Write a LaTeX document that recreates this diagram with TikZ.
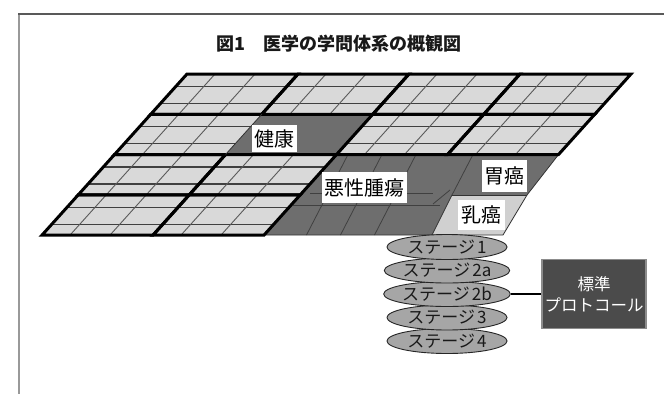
\documentclass[tikz,border=0pt]{standalone}
\usepackage{fontspec}
\setmainfont{Noto Sans CJK JP}
\usetikzlibrary{shapes.geometric}
\definecolor{gridfill}{HTML}{D9D9D9}
\definecolor{darkfill}{HTML}{6E6E6E}
\definecolor{lightreg}{HTML}{D0D0D0}
\definecolor{stagefill}{HTML}{A6A6A6}
\definecolor{protofill}{HTML}{4B4B4B}
\tikzset{
  minorh/.style={draw=black!75, line width=1.2pt},
  minorv/.style={draw=black!65, line width=0.9pt},
  thickline/.style={draw=black, line width=3pt},
  thinedge/.style={draw=black!80, line width=0.8pt},
  darkline/.style={draw=black!75, line width=0.8pt},
  lbl/.style={fill=white, inner sep=0pt, text=black, font=\fontsize{20}{20}\selectfont},
  stage/.style={ellipse, draw=black!85, line width=0.9pt, fill=stagefill, inner sep=0pt,
    minimum width=120pt, minimum height=25pt, text=black!90, font=\fontsize{17}{17}\selectfont},
  protobox/.style={draw=black!45, line width=1.2pt, fill=protofill, text=white, align=center,
    minimum width=104pt, minimum height=69pt, inner sep=0pt, font=\fontsize{16.5}{21}\selectfont},
  conn/.style={draw=black, line width=1.1pt},
  titletext/.style={font=\bfseries\fontsize{18}{18}\selectfont, text=black!90, inner sep=0pt}
}
\begin{document}
\begin{tikzpicture}[x=1pt,y=-1pt]
\useasboundingbox (0,0) rectangle (664,394);
% frame
\draw[draw=black!65, line width=1.2pt] (18,14) -- (664,14);
\draw[draw=black!40, line width=2pt] (19,14.5) -- (19,394);
% title
\node[titletext] (title) at (339,44) {図1　医学の学問体系の概観図};
% light grid blocks
\begin{scope}[shift={(66.6,0)}, x={(1pt,0pt)}, y={(-0.9pt,-1pt)}]
\foreach \a/\b in {187/74, 298/74, 409/74, 520/74, 187/114.25, 409/114.25, 520/114.25, 187/154.5, 298/154.5, 187/194.75, 298/194.75} {
  \fill[gridfill] (\a,\b) -- ++(111,0) -- ++(0,40.25) -- ++(-111,0) -- cycle;
  \draw[minorh] (\a,\b+12.5) -- ++(111,0);
  \draw[minorh] (\a,\b+29.5) -- ++(111,0);
  \draw[minorv] (\a+28,\b) -- ++(0,40.25);
  \draw[minorv] (\a+68,\b) -- ++(0,40.25);
}
\fill[darkfill] (298,114.25) -- ++(111,0) -- ++(0,40.25) -- ++(-111,0) -- cycle;
\end{scope}
% malignant tumour region
\fill[darkfill] (336.6,154.5) -- (558.6,154.5) -- (527,195) -- (452,195) -- (432,235) -- (264.5,235) -- cycle;
\fill[lightreg] (452,195) -- (527,195) -- (503,235) -- (432,235) -- cycle;
\draw[darkline] (348,154.5) -- (306.5,235);
\draw[darkline] (382,154.5) -- (340.5,235);
\draw[darkline] (416,154.5) -- (374.5,235);
\draw[darkline] (473,154.5) -- (452,195);
\draw[darkline] (310,193) -- (433,193);
\draw[darkline] (293,205) -- (440,205);
\draw[darkline] (450,190) -- (433,204);
\draw[thinedge] (558.6,154.5) -- (527,195) -- (503,235) -- (432,235) -- (264.5,235);
\draw[thinedge] (452,195) -- (527,195);
\draw[thinedge] (452,195) -- (432,235);
% thick block outlines
\begin{scope}[shift={(66.6,0)}, x={(1pt,0pt)}, y={(-0.9pt,-1pt)}]
\foreach \a/\b in {187/74, 298/74, 409/74, 520/74, 409/114.25, 520/114.25, 187/154.5, 298/154.5, 187/194.75, 298/194.75} {
  \draw[thickline] (\a,\b) -- ++(111,0) -- ++(0,40.25) -- ++(-111,0) -- cycle;
}
\draw[thickline] (298,114.25) -- (187,114.25) -- (187,154.5) -- (298,154.5);
\draw[thinedge] (298,114.25) -- (298,154.5);
\end{scope}
% labels
\node[lbl, minimum width=45pt, minimum height=27pt] (kenko) at (274.5,138.5) {健康};
\node[lbl, minimum width=85pt, minimum height=31pt] (akusei) at (364.5,187.5) {悪性腫瘍};
\node[lbl, minimum width=45pt, minimum height=32pt] (igan) at (504.5,176) {胃癌};
\node[lbl, minimum width=47pt, minimum height=30pt] (nyugan) at (481.5,215) {乳癌};
% stages
\node[stage] (s4) at (447,341) {ステージ\hspace{2pt}4};
\node[stage] (s3) at (447,317.5) {ステージ\hspace{2pt}3};
\node[stage] (s2b) at (447,294) {ステージ\hspace{2pt}2b};
\node[stage] (s2a) at (447,270.5) {ステージ\hspace{2pt}2a};
\node[stage] (s1) at (447,247) {ステージ\hspace{2pt}1};
% protocol box
\node[protobox] (proto) at (594,294) {標準\\プロトコール};
\draw[conn] (s2b.east) -- (proto.west);
\end{tikzpicture}
\end{document}
